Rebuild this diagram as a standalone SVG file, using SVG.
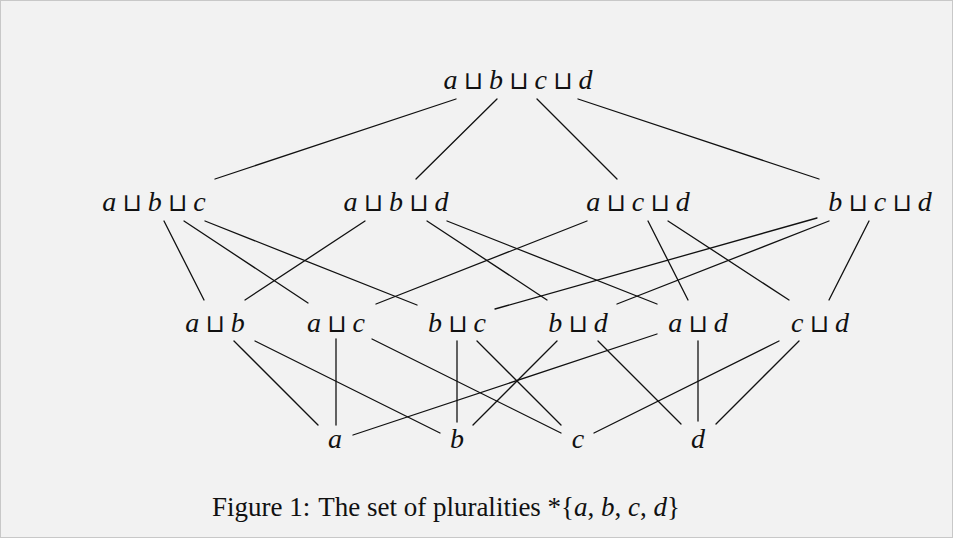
<svg xmlns="http://www.w3.org/2000/svg" width="953" height="540" viewBox="0 0 953 540">
<style>
.bg{fill:#f2f2f2;stroke:#c8c8c8;stroke-width:1}
.lbl{font-family:"Liberation Serif","DejaVu Serif",serif;font-style:italic;font-size:28px;fill:#111;text-anchor:middle;word-spacing:-1px}
.op{font-family:"DejaVu Sans","Noto Sans",sans-serif;font-style:normal;font-size:25px}
.cap{font-family:"Liberation Serif","DejaVu Serif",serif;font-size:27px;fill:#111;text-anchor:middle}
.it{font-style:italic}
.edges line{stroke:#111;stroke-width:1.3;stroke-linecap:round}
</style>
<rect class="bg" x="0.5" y="0.5" width="952" height="537"/>
<g class="edges" id="connectors">
<line x1="456" y1="99" x2="215" y2="179"/>
<line x1="497" y1="99" x2="416" y2="179"/>
<line x1="537" y1="99" x2="617" y2="179"/>
<line x1="578" y1="99" x2="819" y2="179"/>
<line x1="164" y1="221" x2="204" y2="300"/>
<line x1="184" y1="221" x2="308" y2="303"/>
<line x1="205" y1="221" x2="417" y2="305"/>
<line x1="365" y1="221" x2="245" y2="300"/>
<line x1="427" y1="221" x2="547" y2="300"/>
<line x1="447" y1="221" x2="657" y2="304"/>
<line x1="587" y1="221" x2="376" y2="304"/>
<line x1="648" y1="221" x2="688" y2="300"/>
<line x1="668" y1="221" x2="789" y2="300"/>
<line x1="817" y1="218" x2="495" y2="309"/>
<line x1="829" y1="221" x2="617" y2="304"/>
<line x1="869" y1="221" x2="829" y2="300"/>
<line x1="234" y1="341" x2="318" y2="425"/>
<line x1="255" y1="341" x2="440" y2="433"/>
<line x1="336" y1="339" x2="336" y2="425"/>
<line x1="372" y1="339" x2="561" y2="433"/>
<line x1="457" y1="341" x2="457" y2="422"/>
<line x1="477" y1="341" x2="561" y2="425"/>
<line x1="557" y1="341" x2="473" y2="425"/>
<line x1="598" y1="341" x2="681" y2="424"/>
<line x1="657" y1="334" x2="353" y2="435"/>
<line x1="698" y1="341" x2="698" y2="421"/>
<line x1="779" y1="341" x2="594" y2="433"/>
<line x1="799" y1="341" x2="716" y2="424"/>
</g>
<g id="n-abcd"><text class="lbl" x="518" y="89">a <tspan class="op">⊔</tspan> b <tspan class="op">⊔</tspan> c <tspan class="op">⊔</tspan> d</text></g>
<g id="n-abc"><text class="lbl" x="154" y="211">a <tspan class="op">⊔</tspan> b <tspan class="op">⊔</tspan> c</text></g>
<g id="n-abd"><text class="lbl" x="396" y="211">a <tspan class="op">⊔</tspan> b <tspan class="op">⊔</tspan> d</text></g>
<g id="n-acd"><text class="lbl" x="638" y="211">a <tspan class="op">⊔</tspan> c <tspan class="op">⊔</tspan> d</text></g>
<g id="n-bcd"><text class="lbl" x="880" y="211">b <tspan class="op">⊔</tspan> c <tspan class="op">⊔</tspan> d</text></g>
<g id="n-ab"><text class="lbl" x="215" y="332">a <tspan class="op">⊔</tspan> b</text></g>
<g id="n-ac"><text class="lbl" x="336" y="332">a <tspan class="op">⊔</tspan> c</text></g>
<g id="n-bc"><text class="lbl" x="457" y="332">b <tspan class="op">⊔</tspan> c</text></g>
<g id="n-bd"><text class="lbl" x="578" y="332">b <tspan class="op">⊔</tspan> d</text></g>
<g id="n-ad"><text class="lbl" x="698" y="332">a <tspan class="op">⊔</tspan> d</text></g>
<g id="n-cd"><text class="lbl" x="820" y="332">c <tspan class="op">⊔</tspan> d</text></g>
<g id="n-a"><text class="lbl" x="335" y="448">a</text></g>
<g id="n-b"><text class="lbl" x="457" y="448">b</text></g>
<g id="n-c"><text class="lbl" x="578" y="448">c</text></g>
<g id="n-d"><text class="lbl" x="698" y="448">d</text></g>
<text class="cap" x="446" y="516">Figure 1:<tspan dx="8">The set of pluralities *{</tspan><tspan class="it">a</tspan>, <tspan class="it">b</tspan>, <tspan class="it">c</tspan>, <tspan class="it">d</tspan>}</text>
</svg>
